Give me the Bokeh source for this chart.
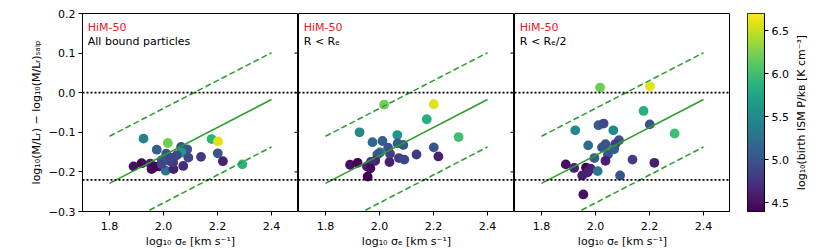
import numpy as np
from bokeh.plotting import figure
from bokeh.models import (FixedTicker, CustomJSTickFormatter, Span, Label,
                          LinearColorMapper, ColumnDataSource)
from bokeh.transform import transform
from bokeh.layouts import row
from bokeh.palettes import Viridis256
from bokeh.embed import file_html
from bokeh.resources import INLINE

# ---------------- data ----------------
p1_x = [1.926, 2.016, 1.975, 2.065, 2.088, 2.067, 2.010, 2.178, 2.202, 2.201, 2.139, 2.092, 2.220, 2.292,
        1.889, 1.919, 1.951, 1.956, 1.984, 1.968, 2.008, 2.037, 2.073, 2.036, 2.025, 1.994, 2.049, 2.026, 1.993]
p1_y = [-0.116, -0.127, -0.144, -0.137, -0.143, -0.151, -0.154, -0.117, -0.123, -0.153, -0.162, -0.164, -0.173, -0.181,
        -0.186, -0.178, -0.179, -0.193, -0.186, -0.187, -0.197, -0.193, -0.185, -0.176, -0.173, -0.170, -0.158, -0.164, -0.181]
p1_c = [5.4, 6.2, 5.1, 5.0, 5.0, 5.6, 5.0, 5.9, 6.6, 5.0, 4.8, 4.9, 4.6, 5.9,
        4.5, 4.4, 4.6, 4.45, 4.5, 4.4, 5.3, 4.6, 4.7, 4.8, 4.8, 5.0, 4.9, 4.9, 4.9]

p2_x = [2.017, 2.201, 2.175, 2.293, 1.926, 2.066, 1.974, 2.011, 2.067, 2.088, 2.032, 2.002, 1.992, 2.201,
        2.137, 2.218, 2.072, 2.092, 2.037, 2.039, 1.891, 1.919, 1.953, 1.984, 1.968, 1.966, 1.956]
p2_y = [-0.030, -0.029, -0.067, -0.112, -0.100, -0.107, -0.125, -0.122, -0.128, -0.132, -0.139, -0.151, -0.156, -0.138,
        -0.156, -0.161, -0.165, -0.169, -0.175, -0.154, -0.182, -0.177, -0.186, -0.172, -0.175, -0.191, -0.212]
p2_c = [6.2, 6.6, 5.85, 6.0, 5.5, 5.6, 5.2, 5.1, 5.1, 5.0, 5.0, 5.2, 5.0, 5.0,
        4.8, 4.6, 4.8, 4.9, 4.6, 4.8, 4.5, 4.4, 4.6, 4.6, 4.7, 4.45, 4.4]

p3_x = [2.017, 2.202, 2.178, 2.293, 1.925, 2.011, 2.030, 2.066, 2.201, 1.973, 2.087, 2.037, 2.024, 2.073, 2.069,
        2.046, 1.996, 2.037, 2.137, 2.218, 1.890, 1.921, 1.965, 1.982, 2.008, 1.971, 1.951, 2.091, 1.955]
p3_y = [0.013, 0.016, -0.046, -0.103, -0.095, -0.082, -0.078, -0.095, -0.080, -0.133, -0.120, -0.130, -0.138, -0.130, -0.143,
        -0.156, -0.165, -0.172, -0.169, -0.177, -0.181, -0.190, -0.189, -0.192, -0.198, -0.201, -0.209, -0.209, -0.257]
p3_c = [6.2, 6.6, 5.85, 6.0, 5.5, 5.1, 4.9, 5.5, 5.0, 5.2, 5.0, 5.0, 5.0, 4.8, 5.1,
        5.0, 5.1, 4.6, 4.8, 4.6, 4.5, 4.6, 4.4, 4.6, 5.3, 4.6, 4.6, 5.0, 4.5]

fit_x = [1.8, 2.4]
fit_mid = [-0.229, -0.017]
fit_up = [-0.110, 0.101]
fit_lo = [-0.349, -0.137]
ref_levels = [0.0, -0.22]

x_ticks = [1.8, 2.0, 2.2, 2.4]
y_ticks = [-0.3, -0.2, -0.1, 0.0, 0.1, 0.2]
cb_ticks = [4.5, 5.0, 5.5, 6.0, 6.5]
x_range = (1.7, 2.5)
y_range = (-0.3, 0.2)
c_range = (4.4, 6.7)

sim_label = "HiM-50"
panel_titles = ["All bound particles", "R < Rₑ", "R < Rₑ/2"]
x_label = "log₁₀ σₑ [km s⁻¹]"
y_label = "log₁₀(M/Lᵣ) − log₁₀(M/Lᵣ)ₛₐₗₚ"
cb_label = "log₁₀(birth ISM P/kʙ [K cm⁻³]"

# ---------------- styling ----------------
FONT = "DejaVu Sans"
FS = "11px"
GREEN = "#2ca02c"
mapper = LinearColorMapper(palette=Viridis256, low=c_range[0], high=c_range[1])
fmt = CustomJSTickFormatter(code="return tick.toFixed(1).replace('-', '\u2212');")

FRAME_W = 216
FRAME_H = 198
TOP = 13
BOTTOM = 36
TICK_PX = 4
CB_W = 17


def style_axis(ax):
    ax.major_label_text_font = FONT
    ax.major_label_text_font_size = FS
    ax.major_label_text_color = "black"
    ax.axis_label_text_font = FONT
    ax.axis_label_text_font_size = FS
    ax.axis_label_text_font_style = "normal"
    ax.axis_label_text_color = "black"
    ax.major_tick_out = TICK_PX
    ax.major_tick_in = 0
    ax.minor_tick_out = 0
    ax.minor_tick_in = 0
    ax.axis_line_color = "black"
    ax.major_tick_line_color = "black"
    ax.major_label_standoff = 3
    ax.axis_label_standoff = 3


def make_panel(idx, xs, ys, cs, title):
    first = idx == 0
    p = figure(frame_width=FRAME_W, frame_height=FRAME_H,
               x_range=x_range, y_range=y_range,
               min_border_left=82 if first else 0, min_border_right=0,
               min_border_top=TOP, min_border_bottom=BOTTOM,
               y_axis_location="left" if first else None,
               toolbar_location=None, output_backend="svg")
    p.grid.visible = False
    p.outline_line_color = "black"
    p.outline_line_width = 1
    p.background_fill_color = "white"
    p.border_fill_color = "white"

    p.xaxis.ticker = FixedTicker(ticks=x_ticks)
    p.xaxis.formatter = fmt
    p.xaxis.axis_label = x_label
    style_axis(p.xaxis[0])
    p.xaxis[0].major_label_standoff = 6
    p.xaxis[0].axis_label_standoff = 2
    if first:
        p.yaxis.ticker = FixedTicker(ticks=y_ticks)
        p.yaxis.formatter = fmt
        p.yaxis.axis_label = y_label
        style_axis(p.yaxis[0])
        p.yaxis[0].axis_label_standoff = 3

    src = ColumnDataSource(dict(x=xs, y=ys, c=cs))
    p.scatter("x", "y", source=src, size=9.8, fill_color=transform("c", mapper), line_color=None)

    p.line(fit_x, fit_mid, line_color=GREEN, line_width=1.6)
    p.line(fit_x, fit_up, line_color=GREEN, line_width=1.6, line_dash="6 3")
    p.line(fit_x, fit_lo, line_color=GREEN, line_width=1.6, line_dash="6 3")
    for lv in ref_levels:
        p.add_layout(Span(location=lv, dimension="width", line_color="black",
                          line_width=1.8, line_dash="2 2"))

    # tick marks of the neighbouring panel's shared y axis (pointing into this panel)
    if idx < 2:
        tick_len = TICK_PX * (x_range[1] - x_range[0]) / FRAME_W
        n = len(y_ticks)
        p.segment(x0=[x_range[1]] * n, y0=y_ticks, x1=[x_range[1] - tick_len] * n, y1=y_ticks,
                  line_color="black", line_width=1)

    p.add_layout(Label(x=1.7195, y=0.165, text=sim_label, text_color="#e41a1c",
                       text_font=FONT, text_font_size=FS, text_baseline="alphabetic"))
    p.add_layout(Label(x=1.7195, y=0.130, text=title, text_color="black",
                       text_font=FONT, text_font_size=FS, text_baseline="alphabetic"))
    return p


panels = [make_panel(0, p1_x, p1_y, p1_c, panel_titles[0]),
          make_panel(1, p2_x, p2_y, p2_c, panel_titles[1]),
          make_panel(2, p3_x, p3_y, p3_c, panel_titles[2])]

# colour bar as its own small figure
pc = figure(frame_width=CB_W, frame_height=FRAME_H, x_range=(0, 1), y_range=c_range,
            min_border_left=17, min_border_right=24, min_border_top=TOP, min_border_bottom=BOTTOM,
            x_axis_location=None, y_axis_location="right",
            toolbar_location=None, output_backend="svg")
pc.grid.visible = False
pc.outline_line_color = "black"
grad = np.linspace(c_range[0], c_range[1], 256).reshape(-1, 1)
pc.image(image=[grad], x=0, y=c_range[0], dw=1, dh=c_range[1] - c_range[0], color_mapper=mapper)
pc.yaxis.ticker = FixedTicker(ticks=cb_ticks)
pc.yaxis.formatter = fmt
style_axis(pc.yaxis[0])

# colour-bar title: a label-only axis of a 1-px-wide figure, reading bottom-to-top
pl = figure(frame_width=1, frame_height=FRAME_H, x_range=(0, 1), y_range=c_range,
            min_border_left=12, min_border_right=0, min_border_top=TOP, min_border_bottom=BOTTOM,
            x_axis_location=None, y_axis_location="left",
            toolbar_location=None, output_backend="svg")
pl.grid.visible = False
pl.outline_line_color = None
pl.yaxis.ticker = FixedTicker(ticks=[])
pl.yaxis.axis_label = cb_label
style_axis(pl.yaxis[0])
pl.yaxis[0].axis_line_color = None
pl.yaxis[0].major_tick_line_color = None
pl.yaxis[0].axis_label_standoff = 1

layout = row(*panels, pc, pl, spacing=0)

open("out.html", "w").write(file_html(layout, INLINE))
